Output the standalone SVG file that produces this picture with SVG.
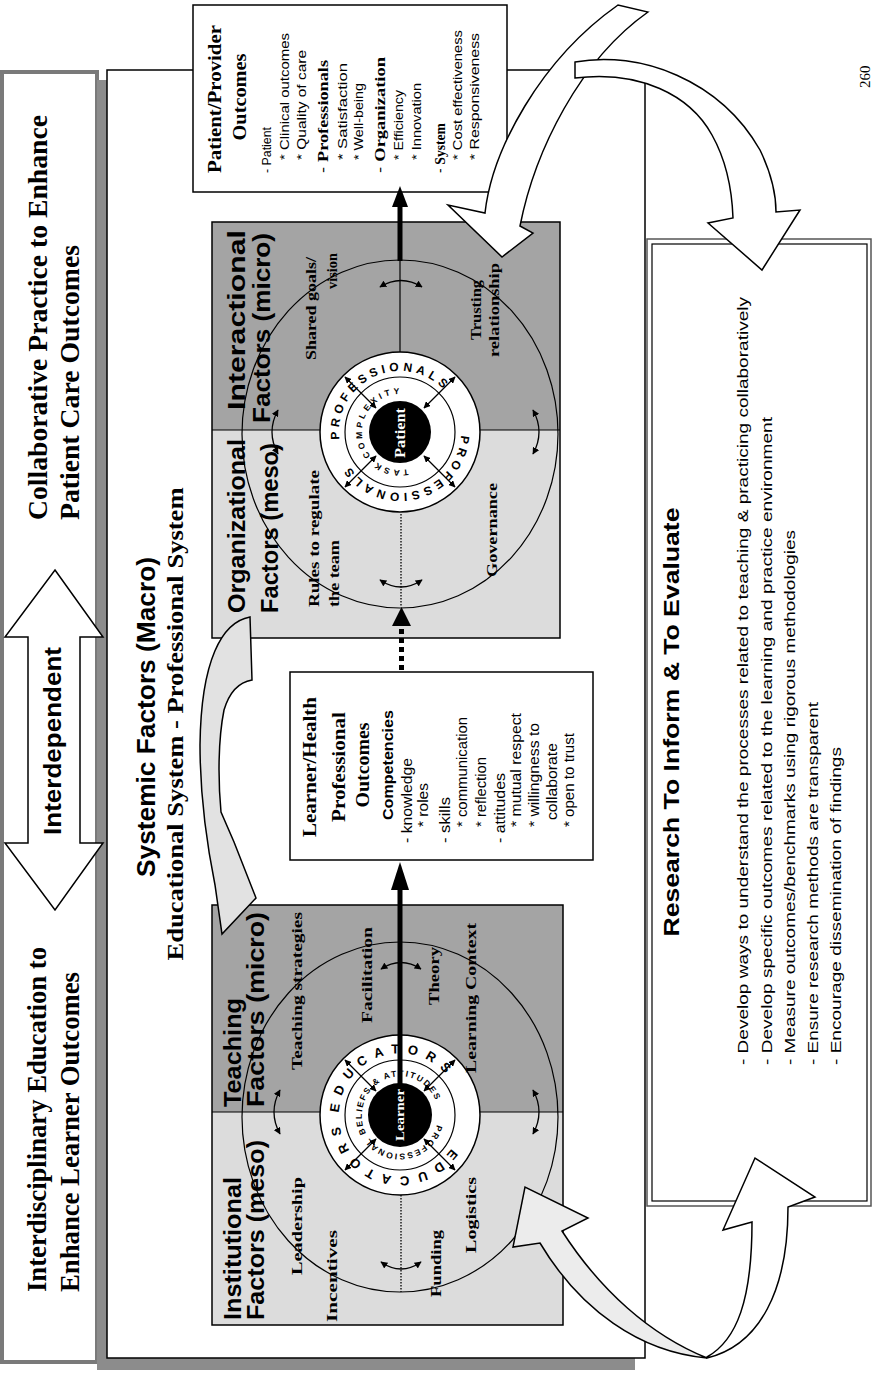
<svg xmlns="http://www.w3.org/2000/svg" width="873" height="1373" viewBox="0 0 873 1373">
<style>
.tb{font-family:"Liberation Serif","Times New Roman",serif;font-weight:bold;fill:#000}
.t{font-family:"Liberation Serif","Times New Roman",serif;fill:#000}
.sb{font-family:"Liberation Sans",Arial,sans-serif;font-weight:bold;fill:#000}
.s{font-family:"Liberation Sans",Arial,sans-serif;fill:#000}
.ln{fill:none;stroke:#000;stroke-width:1.5}
.thin{fill:none;stroke:#000;stroke-width:1.2}
.dot{fill:none;stroke:#000;stroke-width:1.3;stroke-dasharray:1.5 1.5}
.dark{fill:#a4a4a4;stroke:none}
.light{fill:#dcdcdc;stroke:none}
.ring{font-family:"Liberation Sans",Arial,sans-serif;font-weight:bold;fill:#000}
.carr{fill:none;stroke:#000;stroke-width:1.3;marker-start:url(#ah);marker-end:url(#ah)}
.blk{stroke:#000;stroke-width:1.5;stroke-linejoin:miter}
</style>
<defs>
<marker id="ah" viewBox="0 0 10 10" refX="9" refY="5" markerWidth="7" markerHeight="7" markerUnits="userSpaceOnUse" orient="auto-start-reverse"><path d="M0,0 L10,5 L0,10 z" fill="#000"/></marker>
<path id="edu1" d="M339.04,1112.87 A61,61 0 1 1 460.96,1117.13 A61,61 0 1 1 339.04,1112.87"/>
<path id="edu2" d="M451.16,1148.22 A61,61 0 1 1 348.84,1081.78 A61,61 0 1 1 451.16,1148.22"/>
<path id="pba" d="M436.7,1124.83 A38,38 0 1 1 363.3,1105.17 A38,38 0 1 1 436.7,1124.83"/>
<path id="prof1" d="M339.45,439.43 A61,61 0 1 1 460.55,424.57 A61,61 0 1 1 339.45,439.43"/>
<path id="prof2" d="M460.92,435.19 A61,61 0 1 1 339.08,428.81 A61,61 0 1 1 460.92,435.19"/>
<path id="task" d="M407.9,469.17 A38,38 0 1 1 392.1,394.83 A38,38 0 1 1 407.9,469.17"/>
</defs>
<rect width="873" height="1373" fill="#fff"/>

<g id="header">
<rect x="2" y="72" width="95" height="1290" fill="#fff" stroke="#7a7a7a" stroke-width="4"/>
<text class="tb" font-size="27" transform="translate(46 1292) rotate(-90)" textLength="345" lengthAdjust="spacingAndGlyphs">Interdisciplinary Education to</text>
<text class="tb" font-size="27" transform="translate(79 1292) rotate(-90)" textLength="320" lengthAdjust="spacingAndGlyphs">Enhance Learner Outcomes</text>
<text class="tb" font-size="27" transform="translate(47 520) rotate(-90)" textLength="405" lengthAdjust="spacingAndGlyphs">Collaborative Practice to Enhance</text>
<text class="tb" font-size="27" transform="translate(79 520) rotate(-90)" textLength="275" lengthAdjust="spacingAndGlyphs">Patient Care Outcomes</text>
</g>

<g id="panel">
<rect x="97" y="80" width="538" height="1290" fill="#8c8c8c"/>
<rect x="107" y="70" width="538" height="1288" fill="#fff" stroke="#000" stroke-width="1.5"/>
<text class="sb" font-size="25" text-anchor="middle" transform="translate(155 717) rotate(-90)" textLength="320" lengthAdjust="spacingAndGlyphs">Systemic Factors (Macro)</text>
<text class="tb" font-size="24" text-anchor="middle" transform="translate(183 724) rotate(-90)" textLength="473" lengthAdjust="spacingAndGlyphs">Educational System - Professional System</text>
</g>

<g id="interdependent">
<path d="M55,570 L103,637 L80,637 L80,843 L103,843 L55,910 L5,843 L28,843 L28,637 L5,637 Z" fill="#fff" stroke="#000" stroke-width="1.5"/>
<text class="sb" font-size="24" text-anchor="middle" transform="translate(61 741) rotate(-90)" textLength="188" lengthAdjust="spacingAndGlyphs">Interdependent</text>
</g>

<g id="education-box">
<rect class="dark" x="212" y="905" width="351" height="207"/>
<rect class="light" x="212" y="1112" width="351" height="213"/>
<rect x="212" y="905" width="351" height="420" class="ln"/>
<line x1="212" y1="1112" x2="563" y2="1112" class="thin"/>
<ellipse cx="400" cy="1117" rx="158" ry="175" class="thin"/>
<line x1="401" y1="1195" x2="401" y2="1292" class="dot"/>
<circle cx="400" cy="1115" r="80" fill="#fff" stroke="#000" stroke-width="1.5"/>
<circle cx="400" cy="1115" r="55" fill="#fff" stroke="#000" stroke-width="1.2"/>
<text class="ring" font-size="13" letter-spacing="8"><textPath href="#edu1">EDUCATORS</textPath></text>
<text class="ring" font-size="13" letter-spacing="8"><textPath href="#edu2">EDUCATORS</textPath></text>
<text class="ring" font-size="8.5" letter-spacing="1.7"><textPath href="#pba">PROFESSIONAL BELIEFS &amp; ATTITUDES</textPath></text>
<line x1="424" y1="1091" x2="455" y2="1060" class="carr"/>
<line x1="424" y1="1139" x2="455" y2="1170" class="carr"/>
<line x1="376" y1="1139" x2="345" y2="1170" class="carr"/>
<line x1="376" y1="1091" x2="345" y2="1060" class="carr"/>
<circle cx="400" cy="1115" r="32" fill="#000"/>
<path class="carr" d="M280,1090 Q268,1112 280,1134"/>
<path class="carr" d="M533,1090 Q545,1112 533,1134"/>
<path class="carr" d="M381,1262 Q401,1276 421,1262"/>
<path class="carr" d="M381,969 Q401,956 421,969"/>
<text class="sb" font-size="24" transform="translate(241 1320) rotate(-90)" textLength="143" lengthAdjust="spacingAndGlyphs">Institutional</text>
<text class="sb" font-size="24" transform="translate(264 1320) rotate(-90)" textLength="180" lengthAdjust="spacingAndGlyphs">Factors (meso)</text>
<text class="sb" font-size="24" transform="translate(241 1107) rotate(-90)" textLength="109" lengthAdjust="spacingAndGlyphs">Teaching</text>
<text class="sb" font-size="24" transform="translate(264 1107) rotate(-90)" textLength="195" lengthAdjust="spacingAndGlyphs">Factors (micro)</text>
<text class="tb" font-size="15" transform="translate(302 1275) rotate(-90)" textLength="98" lengthAdjust="spacingAndGlyphs">Leadership</text>
<text class="tb" font-size="15" transform="translate(337 1322) rotate(-90)" textLength="92" lengthAdjust="spacingAndGlyphs">Incentives</text>
<text class="tb" font-size="15" transform="translate(441 1297) rotate(-90)" textLength="67" lengthAdjust="spacingAndGlyphs">Funding</text>
<text class="tb" font-size="15" transform="translate(476 1253) rotate(-90)" textLength="76" lengthAdjust="spacingAndGlyphs">Logistics</text>
<text class="tb" font-size="15" transform="translate(302 1070) rotate(-90)" textLength="158" lengthAdjust="spacingAndGlyphs">Teaching strategies</text>
<text class="tb" font-size="15" transform="translate(372 1023) rotate(-90)" textLength="96" lengthAdjust="spacingAndGlyphs">Facilitation</text>
<text class="tb" font-size="15" transform="translate(439 1005) rotate(-90)" textLength="58" lengthAdjust="spacingAndGlyphs">Theory</text>
<text class="tb" font-size="15" transform="translate(476 1073) rotate(-90)" textLength="150" lengthAdjust="spacingAndGlyphs">Learning Context</text>
<text class="tb" font-size="12" style="fill:#fff" text-anchor="middle" transform="translate(404 1115) rotate(-90)" textLength="52" lengthAdjust="spacingAndGlyphs">Learner</text>
</g>

<g id="practice-box">
<rect class="dark" x="212" y="222" width="348" height="208"/>
<rect class="light" x="212" y="430" width="348" height="208"/>
<rect x="212" y="222" width="348" height="416" class="ln"/>
<line x1="212" y1="430" x2="560" y2="430" class="thin"/>
<ellipse cx="400" cy="434" rx="158" ry="174" class="thin"/>
<line x1="400" y1="352" x2="400" y2="260" class="thin"/>
<line x1="401" y1="514" x2="401" y2="606" class="dot"/>
<circle cx="400" cy="432" r="80" fill="#fff" stroke="#000" stroke-width="1.5"/>
<circle cx="400" cy="432" r="55" fill="#fff" stroke="#000" stroke-width="1.2"/>
<text class="ring" font-size="12" letter-spacing="4"><textPath href="#prof1">PROFESSIONALS</textPath></text>
<text class="ring" font-size="12" letter-spacing="4"><textPath href="#prof2">PROFESSIONALS</textPath></text>
<text class="ring" font-size="8.5" letter-spacing="3.3"><textPath href="#task">TASK COMPLEXITY</textPath></text>
<line x1="424" y1="408" x2="455" y2="377" class="carr"/>
<line x1="424" y1="456" x2="455" y2="487" class="carr"/>
<line x1="376" y1="456" x2="345" y2="487" class="carr"/>
<line x1="376" y1="408" x2="345" y2="377" class="carr"/>
<circle cx="400" cy="432" r="31" fill="#000"/>
<path class="carr" d="M278,410 Q266,432 278,454"/>
<path class="carr" d="M533,410 Q545,432 533,454"/>
<path class="carr" d="M380,580 Q401,594 422,580"/>
<path class="carr" d="M380,287 Q401,274 422,287"/>
<text class="sb" font-size="24" transform="translate(245 613) rotate(-90)" textLength="174" lengthAdjust="spacingAndGlyphs">Organizational</text>
<text class="sb" font-size="24" transform="translate(278 613) rotate(-90)" textLength="170" lengthAdjust="spacingAndGlyphs">Factors (meso)</text>
<text class="sb" font-size="24" transform="translate(245 410) rotate(-90)" textLength="180" lengthAdjust="spacingAndGlyphs">Interactional</text>
<text class="sb" font-size="24" transform="translate(270 423) rotate(-90)" textLength="190" lengthAdjust="spacingAndGlyphs">Factors (micro)</text>
<text class="tb" font-size="15" transform="translate(319 607) rotate(-90)" textLength="137" lengthAdjust="spacingAndGlyphs">Rules to regulate</text>
<text class="tb" font-size="15" transform="translate(339 607) rotate(-90)" textLength="67" lengthAdjust="spacingAndGlyphs">the team</text>
<text class="tb" font-size="15" transform="translate(497 577) rotate(-90)" textLength="94" lengthAdjust="spacingAndGlyphs">Governance</text>
<text class="tb" font-size="15" transform="translate(316 360) rotate(-90)" textLength="103" lengthAdjust="spacingAndGlyphs">Shared goals/</text>
<text class="tb" font-size="15" text-anchor="end" transform="translate(337 253) rotate(-90)" textLength="36" lengthAdjust="spacingAndGlyphs">vision</text>
<text class="tb" font-size="15" transform="translate(481 340) rotate(-90)" textLength="60" lengthAdjust="spacingAndGlyphs">Trusting</text>
<text class="tb" font-size="15" transform="translate(499 357) rotate(-90)" textLength="94" lengthAdjust="spacingAndGlyphs">relationship</text>
<text class="tb" font-size="15" style="fill:#fff" text-anchor="middle" transform="translate(405 433) rotate(-90)" textLength="50" lengthAdjust="spacingAndGlyphs">Patient</text>
</g>

<g id="learner-outcomes">
<rect x="290" y="672" width="303" height="188" fill="#fff" stroke="#000" stroke-width="1.5"/>
<text class="tb" font-size="19" text-anchor="middle" transform="translate(316 767) rotate(-90)" textLength="140" lengthAdjust="spacingAndGlyphs">Learner/Health</text>
<text class="tb" font-size="19" text-anchor="middle" transform="translate(345 767) rotate(-90)" textLength="110" lengthAdjust="spacingAndGlyphs">Professional</text>
<text class="tb" font-size="19" text-anchor="middle" transform="translate(369 765) rotate(-90)" textLength="85" lengthAdjust="spacingAndGlyphs">Outcomes</text>
<text class="sb" font-size="15" text-anchor="middle" transform="translate(393 765) rotate(-90)" textLength="110" lengthAdjust="spacingAndGlyphs">Competencies</text>
<text class="s" font-size="14" transform="translate(412 843) rotate(-90)" textLength="85" lengthAdjust="spacingAndGlyphs">- knowledge</text>
<text class="s" font-size="14" transform="translate(428 827) rotate(-90)" textLength="44" lengthAdjust="spacingAndGlyphs">* roles</text>
<text class="s" font-size="14" transform="translate(450 843) rotate(-90)" textLength="46" lengthAdjust="spacingAndGlyphs">- skills</text>
<text class="s" font-size="14" transform="translate(467 827) rotate(-90)" textLength="110" lengthAdjust="spacingAndGlyphs">* communication</text>
<text class="s" font-size="14" transform="translate(486 827) rotate(-90)" textLength="70" lengthAdjust="spacingAndGlyphs">* reflection</text>
<text class="s" font-size="14" transform="translate(505 843) rotate(-90)" textLength="70" lengthAdjust="spacingAndGlyphs">- attitudes</text>
<text class="s" font-size="14" transform="translate(521 827) rotate(-90)" textLength="114" lengthAdjust="spacingAndGlyphs">* mutual respect</text>
<text class="s" font-size="14" transform="translate(539 827) rotate(-90)" textLength="104" lengthAdjust="spacingAndGlyphs">* willingness to</text>
<text class="s" font-size="14" transform="translate(557 820) rotate(-90)" textLength="77" lengthAdjust="spacingAndGlyphs">collaborate</text>
<text class="s" font-size="14" transform="translate(574 827) rotate(-90)" textLength="94" lengthAdjust="spacingAndGlyphs">* open to trust</text>
</g>

<g id="patient-outcomes">
<rect x="193" y="5" width="314" height="187" fill="#fff" stroke="#000" stroke-width="1.5"/>
<text class="tb" font-size="19" text-anchor="middle" transform="translate(221 99) rotate(-90)" textLength="148" lengthAdjust="spacingAndGlyphs">Patient/Provider</text>
<text class="tb" font-size="19" text-anchor="middle" transform="translate(246 97) rotate(-90)" textLength="87" lengthAdjust="spacingAndGlyphs">Outcomes</text>
<text class="s" font-size="13" transform="translate(271 173) rotate(-90)" textLength="46" lengthAdjust="spacingAndGlyphs">- Patient</text>
<text class="s" font-size="13" transform="translate(289 160) rotate(-90)" textLength="127" lengthAdjust="spacingAndGlyphs">* Clinical outcomes</text>
<text class="s" font-size="13" transform="translate(306 160) rotate(-90)" textLength="110" lengthAdjust="spacingAndGlyphs">* Quality of care</text>
<text class="s" font-size="14" transform="translate(328 173) rotate(-90)" textLength="113" lengthAdjust="spacingAndGlyphs">- <tspan class="tb">Professionals</tspan></text>
<text class="s" font-size="13" transform="translate(347 160) rotate(-90)" textLength="97" lengthAdjust="spacingAndGlyphs">* Satisfaction</text>
<text class="s" font-size="13" transform="translate(363 160) rotate(-90)" textLength="77" lengthAdjust="spacingAndGlyphs">* Well-being</text>
<text class="s" font-size="14" transform="translate(385 173) rotate(-90)" textLength="116" lengthAdjust="spacingAndGlyphs">- <tspan class="tb">Organization</tspan></text>
<text class="s" font-size="13" transform="translate(403 160) rotate(-90)" textLength="70" lengthAdjust="spacingAndGlyphs">* Efficiency</text>
<text class="s" font-size="13" transform="translate(421 160) rotate(-90)" textLength="77" lengthAdjust="spacingAndGlyphs">* Innovation</text>
<text class="s" font-size="14" transform="translate(445 173) rotate(-90)" textLength="50" lengthAdjust="spacingAndGlyphs">- <tspan class="tb">System</tspan></text>
<text class="s" font-size="13" transform="translate(462 160) rotate(-90)" textLength="130" lengthAdjust="spacingAndGlyphs">* Cost effectiveness</text>
<text class="s" font-size="13" transform="translate(479 160) rotate(-90)" textLength="127" lengthAdjust="spacingAndGlyphs">* Responsiveness</text>
</g>

<g id="research">
<rect x="647" y="239" width="224" height="967" fill="#fff" stroke="#555" stroke-width="1.5"/>
<rect x="652" y="244" width="215" height="957" fill="none" stroke="#000" stroke-width="1.2"/>
<text class="sb" font-size="22" text-anchor="middle" transform="translate(679 722) rotate(-90)" textLength="429" lengthAdjust="spacingAndGlyphs">Research To Inform &amp; To Evaluate</text>
<text class="s" font-size="15" transform="translate(748 1065) rotate(-90)" textLength="768" lengthAdjust="spacingAndGlyphs">- Develop ways to understand the processes related to teaching &amp; practicing collaboratively</text>
<text class="s" font-size="15" transform="translate(772 1065) rotate(-90)" textLength="648" lengthAdjust="spacingAndGlyphs">- Develop specific outcomes related to the learning and practice environment</text>
<text class="s" font-size="15" transform="translate(795 1065) rotate(-90)" textLength="535" lengthAdjust="spacingAndGlyphs">- Measure outcomes/benchmarks using rigorous methodologies</text>
<text class="s" font-size="15" transform="translate(818 1065) rotate(-90)" textLength="363" lengthAdjust="spacingAndGlyphs">- Ensure research methods are transparent</text>
<text class="s" font-size="15" transform="translate(841 1065) rotate(-90)" textLength="318" lengthAdjust="spacingAndGlyphs">- Encourage dissemination of findings</text>
</g>

<g id="connectors">
<line x1="400" y1="1084" x2="400" y2="888" stroke="#000" stroke-width="5"/>
<path d="M391,890 L409,890 L400,862 Z" fill="#000"/>
<line x1="401.5" y1="670" x2="401.5" y2="624" stroke="#000" stroke-width="5" stroke-dasharray="5 4"/>
<path d="M392,626 L411,626 L401.5,607 Z" fill="#000"/>
<line x1="400" y1="261" x2="400" y2="205" stroke="#000" stroke-width="5"/>
<path d="M392,207 L408,207 L400,186 Z" fill="#000"/>
<path class="blk" fill="#e2e2e2" d="M250,617 C222,622 201,660 200,745 C200,800 208,850 215,885 L222,934 L256,898 L234,842 L221,812 C218,780 218,740 224,710 C230,690 240,682 252,680 Z"/>
<path class="blk" fill="#ececec" d="M707,1358 C640,1352 580,1310 540,1243 L513,1247 L525,1187 L588,1218 L562,1231 C600,1290 650,1335 707,1358 Z"/>
<path class="blk" fill="#fff" d="M707,1357 C737,1340 752,1300 752,1222 L723,1230 L755,1158 L815,1197 L788,1207 C788,1290 760,1345 707,1358 Z"/>
<path class="blk" fill="#fff" d="M485,213 C492,150 540,60 618,5 L648,12 C580,60 535,150 520,226 L533,233 L502,257 L448,205 Z"/>
<path class="blk" fill="#fff" d="M575,62 C640,50 720,80 760,150 C772,175 776,195 776,212 L800,210 L762,270 L708,223 L733,218 C732,190 726,160 712,135 C690,95 640,70 575,78 Z"/>
</g>
<text class="t" font-size="15" transform="translate(870 88) rotate(-90)">260</text>
</svg>
